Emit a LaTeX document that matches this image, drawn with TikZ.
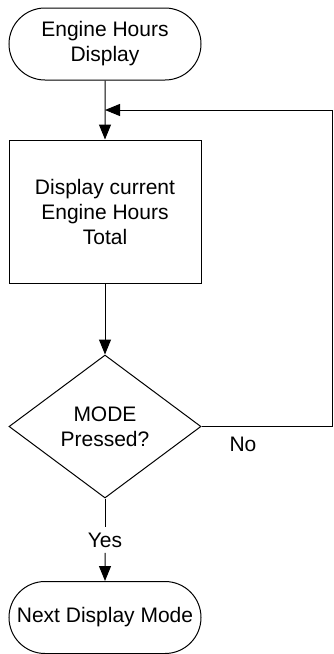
\documentclass[tikz,border=0pt]{standalone}
\usepackage{fontspec}
\setmainfont{Liberation Sans}
\usepackage{tikz}
\usetikzlibrary{arrows.meta,shapes.geometric,shapes.misc}

\begin{document}
\begin{tikzpicture}[x=0.5pt,y=-0.5pt,line width=0.5pt,
                    font=\fontsize{10.5}{12.5}\selectfont,
                    term/.style={rounded rectangle,draw,align=center,minimum width=96pt,minimum height=36pt,inner sep=0pt},
                    proc/.style={rectangle,draw,align=center,minimum width=96pt,minimum height=71.5pt,inner sep=0pt},
                    decide/.style={diamond,draw,align=center,minimum width=96pt,minimum height=71.5pt,inner sep=0pt,shape aspect=1.34},
                    arr/.style={-{Triangle[length=7.5pt,width=6pt]}}]
                      \useasboundingbox (0,0) rectangle (333,654);
                      \node[term](start)at(105,44){Engine Hours\\Display};
                      \node[proc](show)at(105,211.5){Display current\\Engine Hours\\Total};
                      \node[decide](mode)at(105,426.5){MODE\\Pressed?};
                      \node[term](next)at(105,617.5){Next Display Mode};
                      \node[inner sep=2.5pt](yes)at(105,540){Yes};
                      \node(no)at(243,444){No};
                      \coordinate(join)at(105,110);
                      \coordinate(corner)at(332,110);
                      \draw[arr](start)--(show);
                      \draw[arr](show)--(mode);
                      \draw[arr](mode.east)-|(corner)--(join);
                      \draw(mode.south)--(yes.north);
                      \draw[arr](yes.south)--(next);
                  \end{tikzpicture}
\end{document}
